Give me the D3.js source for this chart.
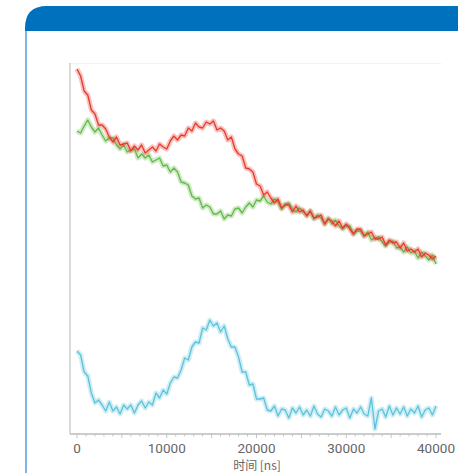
<!DOCTYPE html>
<html>
<head>
<meta charset="utf-8">
<script src="https://cdn.jsdelivr.net/npm/d3@7"></script>
<style>
  html, body { margin: 0; padding: 0; background: #fff; }
  svg { display: block; }
</style>
</head>
<body>
<div id="chart"></div>
<script>
// time axis, one sample every 400 ns
var timeStart = 0, timeStep = 400;
var xTicks = [0, 10000, 20000, 30000, 40000];
var xTitle = '时间 [ns]';

// signal values (arbitrary units)
var redValues = [
  365, 358, 343, 339, 324, 320, 309, 309, 305, 297,
  292, 297, 289, 290, 291, 283, 288, 284, 289, 281,
  284, 287, 283, 290, 287, 285, 293, 298, 294, 299,
  298, 306, 303, 311, 307, 306, 312, 310, 313, 304,
  306, 303, 294, 297, 285, 280, 278, 266, 265, 262,
  250, 248, 239, 242, 236, 231, 235, 226, 229, 229,
  222, 228, 222, 224, 218, 223, 216, 217, 219, 210,
  215, 213, 208, 213, 206, 210, 205, 200, 205, 205,
  198, 200, 202, 195, 195, 197, 189, 194, 191, 192,
  186, 191, 183, 185, 182, 185, 177, 181, 179, 175,
  178
];
var greenValues = [
  303, 301, 308, 314, 307, 302, 306, 299, 293, 296,
  296, 289, 285, 289, 282, 284, 285, 276, 280, 276,
  279, 272, 274, 276, 268, 269, 262, 266, 262, 252,
  251, 249, 238, 235, 236, 226, 229, 227, 220, 220,
  223, 215, 219, 218, 225, 226, 221, 227, 231, 227,
  234, 233, 238, 232, 230, 235, 232, 225, 230, 231,
  225, 222, 226, 222, 219, 223, 215, 219, 216, 210,
  216, 210, 214, 208, 205, 208, 208, 200, 203, 203,
  198, 202, 194, 196, 197, 192, 188, 192, 193, 186,
  187, 182, 187, 181, 183, 176, 182, 178, 174, 179,
  170
];
var cyanValues = [
  83, 79, 62, 58, 41, 31, 34, 29, 23, 32,
  23, 27, 20, 29, 25, 29, 21, 29, 33, 26,
  32, 29, 41, 36, 44, 40, 51, 57, 56, 64,
  76, 74, 87, 92, 91, 106, 104, 114, 108, 111,
  102, 108, 95, 87, 87, 77, 62, 62, 49, 50,
  35, 35, 36, 24, 23, 28, 18, 25, 24, 16,
  26, 21, 27, 19, 24, 18, 28, 20, 17, 25,
  23, 18, 27, 19, 24, 26, 16, 25, 21, 27,
  20, 18, 36, 5, 23, 25, 17, 28, 19, 26,
  20, 27, 18, 25, 21, 28, 17, 24, 26, 19,
  28
];

var seriesList = [
  { name: 'cyan', values: cyanValues, color: '#5cc3dc' },
  { name: 'green', values: greenValues, color: '#63b946' },
  { name: 'red', values: redValues, color: '#e8392c' }
];

var width = 458, height = 473;

var svg = d3.select('#chart').append('svg')
  .attr('width', width)
  .attr('height', height);

// card frame: blue header with rounded top-left corner
var cardLeft = 25, cardTop = 6, headerH = 25, corner = 22;
svg.append('path')
  .attr('d', 'M' + cardLeft + ',' + (cardTop + headerH) +
    ' L' + cardLeft + ',' + (cardTop + corner) +
    ' Q' + cardLeft + ',' + cardTop + ' ' + (cardLeft + corner) + ',' + cardTop +
    ' L' + (width + 5) + ',' + cardTop +
    ' L' + (width + 5) + ',' + (cardTop + headerH) + ' Z')
  .attr('fill', '#0071bc');
svg.append('line')
  .attr('x1', cardLeft + 1).attr('x2', cardLeft + 1)
  .attr('y1', cardTop + headerH).attr('y2', height)
  .attr('stroke', '#7fb5e2')
  .attr('stroke-width', 2);

// plot area
var plotLeft = 70, plotRight = 441, plotTop = 63, plotBottom = 434;

var x = d3.scaleLinear()
  .domain([0, 40000])
  .range([77, 436]);

var y = d3.scaleLinear()
  .domain([0, 371])
  .range([plotBottom, plotTop]);

// faint top grid line
svg.append('line')
  .attr('x1', plotLeft).attr('x2', plotRight)
  .attr('y1', plotTop + 0.5).attr('y2', plotTop + 0.5)
  .attr('stroke', '#f2f2f2');

// y axis line
svg.append('line')
  .attr('x1', plotLeft).attr('x2', plotLeft)
  .attr('y1', plotTop).attr('y2', plotBottom)
  .attr('stroke', '#cccccc')
  .attr('stroke-width', 1.5);

// x axis: minor ticks every 1000, longer every 5000
var minorTicks = d3.range(0, 40001, 1000);
var xAxisG = svg.append('g').attr('class', 'x-axis');
xAxisG.selectAll('line.minor')
  .data(minorTicks)
  .enter().append('line')
  .attr('class', 'minor')
  .attr('x1', function(d) { return x(d); })
  .attr('x2', function(d) { return x(d); })
  .attr('y1', plotBottom)
  .attr('y2', function(d) { return plotBottom + (d % 5000 === 0 ? 4 : 2.5); })
  .attr('stroke', '#c4c4c4')
  .attr('stroke-width', 1);
xAxisG.append('line')
  .attr('x1', plotLeft).attr('x2', plotRight)
  .attr('y1', plotBottom).attr('y2', plotBottom)
  .attr('stroke', '#bbbbbb')
  .attr('stroke-width', 1.5);
xAxisG.selectAll('text.tick')
  .data(xTicks)
  .enter().append('text')
  .attr('class', 'tick')
  .attr('x', function(d) { return x(d); })
  .attr('y', 453)
  .attr('text-anchor', 'middle')
  .attr('font-family', 'Roboto, "Noto Sans", sans-serif')
  .attr('font-size', 13.5)
  .attr('fill', '#666')
  .text(function(d) { return d; });
svg.append('text')
  .attr('x', 257)
  .attr('y', 470)
  .attr('text-anchor', 'middle')
  .attr('font-family', '"Noto Sans CJK SC", Roboto, sans-serif')
  .attr('font-size', 12)
  .attr('fill', '#666')
  .text(xTitle);

// noisy signal traces: soft band underneath, jagged line on top
var line = d3.line()
  .x(function(d, i) { return x(timeStart + i * timeStep); })
  .y(function(d) { return y(d); });

var traces = svg.append('g').attr('class', 'traces');
seriesList.forEach(function(s) {
  traces.append('path')
    .attr('d', line(s.values))
    .attr('fill', 'none')
    .attr('stroke', s.color)
    .attr('stroke-opacity', 0.3)
    .attr('stroke-width', 5)
    .attr('stroke-linejoin', 'round');
  traces.append('path')
    .attr('d', line(s.values))
    .attr('fill', 'none')
    .attr('stroke', s.color)
    .attr('stroke-width', 1.3)
    .attr('stroke-linejoin', 'round');
});
</script>
</body>
</html>
